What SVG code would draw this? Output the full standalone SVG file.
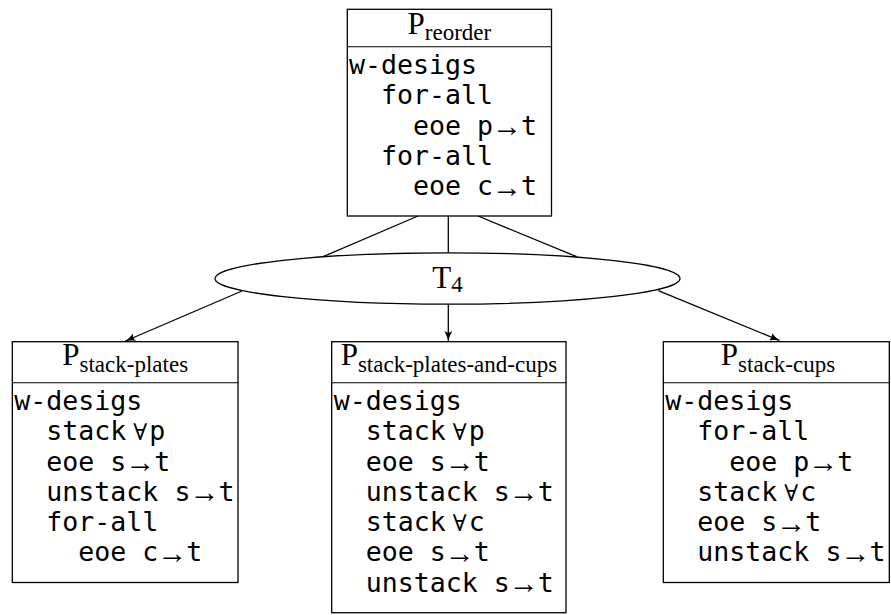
<svg xmlns="http://www.w3.org/2000/svg" width="891" height="615" viewBox="0 0 891 615">
<style>
.box{fill:#fff;stroke:#000;stroke-width:1.3}
.div{stroke:#000;stroke-width:1.1}
.mono{font-family:"DejaVu Sans Mono",monospace;font-size:26.6px;fill:#000}
.hd{font-family:"Liberation Serif",serif;font-size:31px;fill:#000}
.sub{font-size:23px}
.arr{font-family:"Liberation Serif","DejaVu Serif",serif;font-size:30px}
.all{font-family:"DejaVu Serif",serif;font-size:23px}
.edge{stroke:#000;stroke-width:1.3;fill:none}
</style>
<defs>
<marker id="ah" markerUnits="userSpaceOnUse" markerWidth="12" markerHeight="10" refX="10" refY="5" orient="auto">
<path d="M0,1 Q6,4.2 10,5 Q6,5.8 0,9 Q3,5 0,1 Z" fill="#000"/>
</marker>
</defs>
<g id="connectors">
<line class="edge" x1="418" y1="216" x2="323" y2="256.7"/>
<line class="edge" x1="448.3" y1="216" x2="448.3" y2="252.8"/>
<line class="edge" x1="478" y1="216" x2="576.7" y2="256.7"/>
<line class="edge" x1="242" y1="291" x2="125.5" y2="341" marker-end="url(#ah)"/>
<line class="edge" x1="448.3" y1="304.2" x2="448.3" y2="341" marker-end="url(#ah)"/>
<line class="edge" x1="658.3" y1="290.7" x2="779.5" y2="340.5" marker-end="url(#ah)"/>
</g>
<g id="T4">
<ellipse class="box" cx="447.5" cy="278.5" rx="232.5" ry="25.7"/>
<text class="hd" x="447.5" y="288" text-anchor="middle">T<tspan class="sub" dy="4">4</tspan></text>
</g>
<g id="P_reorder">
<rect class="box" x="347.3" y="9.3" width="204.2" height="206.7"/>
<line class="div" x1="347.3" y1="46.7" x2="551.5" y2="46.7"/>
<text class="hd" x="449.4" y="34" text-anchor="middle">P<tspan class="sub" dy="6">reorder</tspan></text>
<text class="mono" x="349" y="74">w-desigs</text>
<text class="mono" x="381" y="104.25">for-all</text>
<text class="mono" x="413" y="134.5">eoe p<tspan class="arr" dy="1.5" dx="-1">→</tspan><tspan dy="-1.5" dx="-1">t</tspan></text>
<text class="mono" x="381" y="164.75">for-all</text>
<text class="mono" x="413" y="195">eoe c<tspan class="arr" dy="1.5" dx="-1">→</tspan><tspan dy="-1.5" dx="-1">t</tspan></text>
</g>
<g id="P_stack_plates">
<rect class="box" x="12.3" y="341.7" width="225.7" height="240.8"/>
<line class="div" x1="12.3" y1="382.7" x2="238" y2="382.7"/>
<text class="hd" x="125.2" y="365" text-anchor="middle">P<tspan class="sub" dy="7">stack-plates</tspan></text>
<text class="mono" x="14.3" y="410">w-desigs</text>
<text class="mono" x="46.3" y="440.25">stack<tspan class="all" dx="7">∀</tspan><tspan dx="2">p</tspan></text>
<text class="mono" x="46.3" y="470.5">eoe s<tspan class="arr" dy="1.5" dx="-1">→</tspan><tspan dy="-1.5" dx="-1">t</tspan></text>
<text class="mono" x="46.3" y="500.75">unstack s<tspan class="arr" dy="1.5" dx="-1">→</tspan><tspan dy="-1.5" dx="-1">t</tspan></text>
<text class="mono" x="46.3" y="531">for-all</text>
<text class="mono" x="78.3" y="561.25">eoe c<tspan class="arr" dy="1.5" dx="-1">→</tspan><tspan dy="-1.5" dx="-1">t</tspan></text>
</g>
<g id="P_stack_plates_and_cups">
<rect class="box" x="331.7" y="341.7" width="234.3" height="271"/>
<line class="div" x1="331.7" y1="382.7" x2="566" y2="382.7"/>
<text class="hd" x="448.9" y="365" text-anchor="middle">P<tspan class="sub" dy="7">stack-plates-and-cups</tspan></text>
<text class="mono" x="333.7" y="410">w-desigs</text>
<text class="mono" x="365.7" y="440.25">stack<tspan class="all" dx="7">∀</tspan><tspan dx="2">p</tspan></text>
<text class="mono" x="365.7" y="470.5">eoe s<tspan class="arr" dy="1.5" dx="-1">→</tspan><tspan dy="-1.5" dx="-1">t</tspan></text>
<text class="mono" x="365.7" y="500.75">unstack s<tspan class="arr" dy="1.5" dx="-1">→</tspan><tspan dy="-1.5" dx="-1">t</tspan></text>
<text class="mono" x="365.7" y="531">stack<tspan class="all" dx="7">∀</tspan><tspan dx="2">c</tspan></text>
<text class="mono" x="365.7" y="561.25">eoe s<tspan class="arr" dy="1.5" dx="-1">→</tspan><tspan dy="-1.5" dx="-1">t</tspan></text>
<text class="mono" x="365.7" y="591.5">unstack s<tspan class="arr" dy="1.5" dx="-1">→</tspan><tspan dy="-1.5" dx="-1">t</tspan></text>
</g>
<g id="P_stack_cups">
<rect class="box" x="663.3" y="341.7" width="226" height="240.8"/>
<line class="div" x1="663.3" y1="382.7" x2="889.3" y2="382.7"/>
<text class="hd" x="778" y="365" text-anchor="middle">P<tspan class="sub" dy="7">stack-cups</tspan></text>
<text class="mono" x="665.3" y="410">w-desigs</text>
<text class="mono" x="697.3" y="440.25">for-all</text>
<text class="mono" x="729.3" y="470.5">eoe p<tspan class="arr" dy="1.5" dx="-1">→</tspan><tspan dy="-1.5" dx="-1">t</tspan></text>
<text class="mono" x="697.3" y="500.75">stack<tspan class="all" dx="7">∀</tspan><tspan dx="2">c</tspan></text>
<text class="mono" x="697.3" y="531">eoe s<tspan class="arr" dy="1.5" dx="-1">→</tspan><tspan dy="-1.5" dx="-1">t</tspan></text>
<text class="mono" x="697.3" y="561.25">unstack s<tspan class="arr" dy="1.5" dx="-1">→</tspan><tspan dy="-1.5" dx="-1">t</tspan></text>
</g>
</svg>
